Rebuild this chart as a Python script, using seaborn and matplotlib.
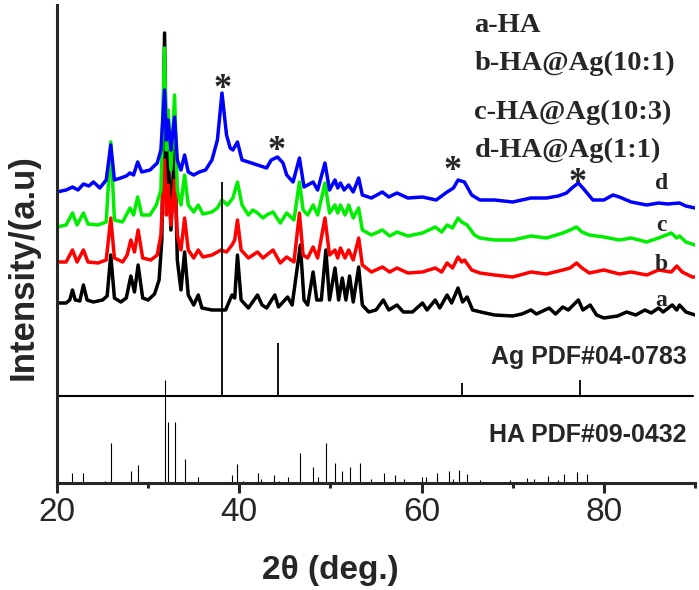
import numpy as np
import pandas as pd
import matplotlib
matplotlib.use("Agg")
import matplotlib.pyplot as plt
import seaborn as sns
from matplotlib.ticker import MultipleLocator

# traced XRD patterns: 2theta (deg.) and stacked intensity (a.u.)
a_x = [20.0, 21.0, 21.4, 21.7, 22.0, 22.5, 22.9, 23.3, 24.0, 25.0, 25.5, 25.9, 26.3, 27.0, 27.6, 28.1,
       28.5, 28.9, 29.4, 30.0, 30.7, 31.2, 31.5, 31.8, 32.05, 32.2, 32.5, 32.9, 33.2, 33.6, 34.0, 34.4,
       35.0, 35.5, 35.9, 37.0, 38.5, 39.2, 39.5, 39.8, 40.2, 41.0, 42.0, 42.5, 43.0, 43.9, 44.3, 45.3,
       45.8, 46.7, 47.1, 47.5, 48.1, 48.5, 49.0, 49.5, 49.9, 50.5, 50.9, 51.3, 51.7, 52.1, 52.5, 53.1,
       53.5, 54.2, 55.0, 55.8, 56.4, 57.3, 58.0, 59.0, 60.1, 60.6, 61.5, 62.0, 62.8, 63.3, 64.0, 64.5,
       65.0, 65.6, 66.5, 68.0, 70.0, 71.0, 72.0, 72.6, 74.0, 74.7, 75.5, 76.1, 77.2, 77.7, 78.5, 79.2,
       80.0, 81.5, 82.5, 83.5, 84.5, 85.2, 86.0, 86.5, 87.5, 88.0, 88.3, 89.0, 90.0]
a_y = [180, 180, 183, 193, 183, 182, 198, 183, 181, 183, 187, 228, 185, 181, 185, 207,
       191, 218, 185, 183, 189, 203, 243, 450, 283, 333, 253, 343, 223, 193, 231, 188,
       178, 188, 175, 173, 173, 188, 185, 228, 183, 175, 188, 178, 175, 188, 176, 186,
       178, 238, 183, 178, 211, 183, 183, 233, 183, 215, 183, 205, 183, 207, 181, 216,
       178, 171, 173, 183, 173, 178, 171, 171, 180, 173, 183, 175, 188, 180, 195, 181,
       186, 173, 171, 168, 167, 169, 173, 169, 175, 169, 176, 173, 183, 173, 178, 168,
       165, 167, 171, 168, 173, 170, 175, 171, 178, 173, 178, 171, 168]

b_x = [20.0, 21.0, 21.7, 22.2, 22.9, 23.4, 24.5, 25.4, 25.9, 26.3, 27.2, 27.7, 28.1, 28.5, 28.9, 29.4,
       30.3, 31.0, 31.4, 31.8, 32.0, 32.2, 32.5, 32.9, 33.2, 33.6, 34.0, 34.4, 35.0, 35.5, 36.0, 37.0,
       38.0, 38.6, 39.2, 39.5, 39.8, 40.2, 41.0, 42.0, 42.6, 43.7, 44.5, 45.2, 46.0, 46.6, 47.0, 47.5,
       48.1, 48.6, 49.4, 49.9, 50.5, 50.8, 51.1, 51.6, 52.0, 52.5, 53.1, 53.5, 54.5, 55.7, 56.5, 57.3,
       58.5, 60.1, 61.5, 62.2, 62.8, 63.4, 64.0, 64.4, 64.7, 65.5, 66.4, 68.0, 70.0, 72.0, 73.7, 75.5,
       76.3, 77.0, 77.6, 78.4, 80.0, 81.7, 83.0, 84.7, 86.0, 87.4, 88.0, 88.6, 89.7, 90.0]
b_y = [221, 221, 233, 221, 233, 221, 220, 223, 265, 225, 221, 228, 243, 231, 253, 225,
       223, 228, 248, 323, 268, 298, 258, 303, 248, 233, 265, 233, 225, 233, 226, 228,
       233, 231, 238, 243, 263, 233, 225, 231, 225, 233, 220, 226, 221, 270, 228, 225,
       236, 225, 265, 228, 233, 225, 235, 225, 233, 223, 245, 218, 211, 216, 211, 215,
       210, 211, 215, 211, 220, 215, 226, 221, 223, 213, 210, 208, 206, 211, 209, 213,
       215, 220, 215, 210, 213, 209, 211, 208, 213, 211, 217, 211, 206, 206]

c_x = [20.0, 21.0, 21.7, 22.2, 22.9, 23.4, 24.5, 25.4, 25.9, 26.3, 27.2, 27.6, 28.0, 28.4, 28.85, 29.3,
       30.2, 30.9, 31.4, 31.8, 32.0, 32.2, 32.5, 32.9, 33.2, 33.6, 34.0, 34.4, 35.0, 35.5, 36.0, 37.0,
       37.6, 38.1, 38.7, 39.3, 39.8, 40.3, 41.0, 41.5, 42.0, 42.6, 43.0, 43.7, 44.5, 45.2, 46.0, 46.6,
       47.0, 47.5, 48.1, 48.6, 49.4, 49.9, 50.5, 50.8, 51.1, 51.6, 52.0, 52.5, 53.1, 53.5, 54.5, 55.7,
       56.5, 57.3, 58.5, 60.1, 61.5, 62.2, 62.8, 63.4, 64.0, 64.4, 65.0, 65.8, 66.4, 68.0, 70.0, 72.0,
       73.7, 75.5, 76.3, 77.0, 77.6, 78.4, 80.0, 81.7, 83.0, 84.7, 86.0, 87.4, 88.0, 88.3, 89.0, 90.0]
c_y = [256, 258, 270, 258, 270, 259, 258, 261, 341, 263, 261, 268, 275, 268, 286, 268,
       268, 278, 293, 435, 333, 373, 313, 388, 293, 278, 308, 278, 271, 278, 269, 271,
       275, 283, 278, 285, 301, 278, 268, 273, 270, 265, 268, 271, 260, 270, 263, 301,
       273, 268, 278, 268, 300, 270, 278, 270, 278, 268, 278, 265, 275, 253, 248, 253,
       247, 251, 247, 250, 256, 251, 258, 255, 265, 261, 258, 248, 245, 243, 243, 247,
       245, 250, 253, 256, 251, 248, 246, 243, 245, 241, 245, 250, 245, 247, 241, 238]

d_x = [20.0, 21.0, 21.7, 22.3, 22.9, 23.5, 24.0, 24.7, 25.4, 25.9, 26.3, 27.0, 27.6, 28.0, 28.4, 28.85,
       29.3, 30.2, 31.0, 31.4, 31.8, 32.0, 32.2, 32.5, 32.9, 33.2, 33.6, 34.0, 34.4, 35.0, 35.6, 36.3,
       37.0, 37.6, 38.1, 38.6, 39.0, 39.3, 39.8, 40.3, 41.0, 42.0, 43.0, 43.5, 44.2, 44.8, 45.2, 45.9,
       46.6, 47.1, 48.1, 48.6, 49.4, 49.9, 50.5, 50.8, 51.1, 51.5, 52.0, 52.5, 53.1, 53.5, 54.5, 55.7,
       56.4, 57.3, 58.5, 60.1, 61.6, 62.8, 63.5, 64.0, 64.7, 65.5, 66.4, 68.0, 70.0, 72.0, 73.7, 75.0,
       75.9, 76.5, 77.2, 77.7, 78.8, 80.0, 81.0, 81.7, 83.0, 84.7, 86.0, 87.0, 88.3, 89.0, 90.0]
d_y = [291, 293, 296, 293, 299, 297, 301, 295, 303, 338, 303, 305, 307, 310, 308, 321,
       311, 313, 320, 333, 393, 343, 363, 333, 366, 323, 313, 328, 311, 308, 311, 313,
       323, 343, 390, 348, 335, 333, 341, 323, 321, 318, 315, 323, 326, 320, 308, 301,
       325, 296, 301, 293, 320, 293, 303, 295, 300, 293, 298, 291, 305, 288, 285, 291,
       286, 290, 285, 286, 283, 291, 295, 303, 301, 288, 283, 283, 281, 285, 285, 287,
       290, 295, 300, 295, 283, 283, 288, 286, 281, 278, 280, 279, 280, 277, 275]

# reference sticks
ag_pos = [38.1, 44.3, 64.4, 77.4]
ag_height = [214, 53, 13, 16]
ha_pos = [21.7, 22.9, 25.3, 25.9, 28.1, 28.9, 31.8, 32.2, 32.9, 34.0, 35.5, 39.2, 39.8, 40.4, 42.0,
          42.4, 43.8, 44.4, 45.3, 46.7, 48.1, 48.6, 49.5, 50.5, 51.3, 52.1, 53.2, 54.4, 55.9, 57.1,
          58.1, 60.0, 60.5, 61.7, 63.0, 63.4, 64.1, 65.0, 66.4, 69.7, 71.6, 72.3, 73.9, 75.0, 75.6,
          77.1, 78.2]
ha_height = [10, 10, 2, 40, 12, 18, 103, 61, 61, 24, 6, 8, 19, 2, 10,
             4, 8, 2, 6, 30, 16, 6, 40, 20, 12, 16, 20, 4, 10, 8,
             4, 6, 6, 10, 12, 4, 13, 9, 3, 3, 5, 4, 7, 3, 9,
             11, 9]
ag_base = 87

sample_labels = ["a-HA", "b-HA@Ag(10:1)", "c-HA@Ag(10:3)", "d-HA@Ag(1:1)"]
curve_letters = ["a", "b", "c", "d"]
curve_colors = ["black", "red", "#00ee00", "blue"]
star_pos = [(38.2, 394), (44.1, 332), (63.4, 312), (77.1, 300)]


def draw_patterns(ax):
    curves = [(a_x, a_y), (b_x, b_y), (c_x, c_y), (d_x, d_y)]
    for (xs, ys), color in zip(curves, curve_colors):
        df = pd.DataFrame({"two_theta": xs, "intensity": ys})
        sns.lineplot(data=df, x="two_theta", y="intensity", color=color, lw=2.5,
                     sort=False, estimator=None, ax=ax)


def draw_references(ax):
    ax.axhline(ag_base, xmin=0, xmax=0.997, color="black", lw=1.5)
    ax.vlines(ha_pos, 0, ha_height, color="black", lw=0.8)
    ax.vlines(ag_pos, ag_base, [ag_base + h for h in ag_height], color="black", lw=1.3)
    ax.text(89.1, 126, "Ag PDF#04-0783", ha="right", va="center", fontsize=18,
            fontweight="bold", family="Liberation Sans")
    ax.text(89.1, 48, "HA PDF#09-0432", ha="right", va="center", fontsize=18,
            fontweight="bold", family="Liberation Sans")


def draw_labels(ax):
    serif = "Liberation Serif"
    for lab, y in zip(sample_labels, [458, 420, 371, 333]):
        ax.text(65.8, y, lab, ha="left", va="center", fontsize=20.5, fontweight="bold", family=serif)
    for let, y in zip(curve_letters, [183, 219, 258, 300]):
        ax.text(86.3, y, let, ha="center", va="center", fontsize=17, fontweight="bold", family=serif)
    for x, y in star_pos:
        ax.text(x, y, "*", ha="center", va="center", fontsize=26, fontweight="bold", family=serif)


def main():
    sns.set_style("ticks")
    plt.rcParams["font.family"] = ["Liberation Sans", "DejaVu Sans"]
    fig = plt.figure(figsize=(6.99, 5.90), dpi=100)
    ax = fig.add_axes([57 / 699, 107 / 590, 638 / 699, 478 / 590])

    draw_patterns(ax)
    draw_references(ax)
    draw_labels(ax)

    ax.set_xlim(20, 90)
    ax.set_ylim(0, 478)
    ax.xaxis.set_major_locator(MultipleLocator(20))
    ax.xaxis.set_minor_locator(MultipleLocator(10))
    ax.set_yticks([])
    ax.tick_params(axis="x", which="major", direction="out", length=7, width=2.2,
                   labelsize=24, pad=3)
    ax.tick_params(axis="x", which="minor", direction="out", length=3.5, width=2.2)
    for side in ["top", "right"]:
        ax.spines[side].set_visible(False)
    for side in ["left", "bottom"]:
        ax.spines[side].set_linewidth(2.2)
    ax.set_xlabel("")
    ax.set_ylabel("")
    fig.text(330 / 699, 1 - 570 / 590, "2\u03b8 (deg.)", ha="center", va="center",
             fontsize=24, fontweight="bold")
    fig.text(23 / 699, 1 - 267 / 590, "Intensity/(a.u)", ha="center", va="center",
             rotation=90, fontsize=25, fontweight="bold")

    fig.savefig("out.png", dpi=100, facecolor="white")


if __name__ == "__main__":
    main()
